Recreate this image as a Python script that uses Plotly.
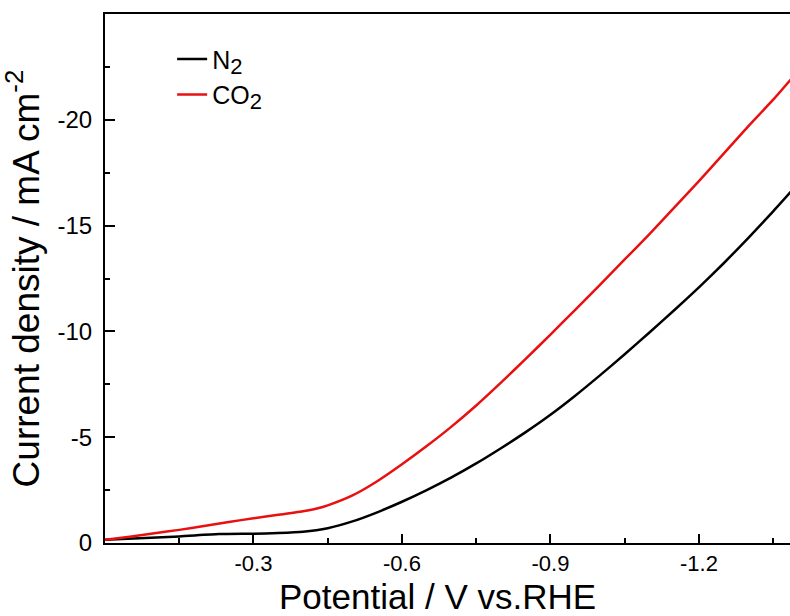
import plotly.graph_objects as go

# Potential (V vs. RHE) and current density (mA cm^-2)
pot_n2 = [0.0, -0.15, -0.23, -0.30, -0.35, -0.40, -0.45, -0.50, -0.55, -0.60,
          -0.65, -0.70, -0.75, -0.80, -0.85, -0.90, -0.95, -1.00, -1.05, -1.10,
          -1.15, -1.20, -1.25, -1.30, -1.35, -1.40]
j_n2 = [-0.15, -0.31, -0.42, -0.44, -0.47, -0.53, -0.70, -1.02, -1.45, -1.95,
        -2.50, -3.10, -3.76, -4.48, -5.24, -6.06, -6.96, -7.92, -8.92, -9.95,
        -11.0, -12.08, -13.22, -14.42, -15.67, -16.97]

pot_co2 = [0.0, -0.05, -0.10, -0.15, -0.20, -0.25, -0.30, -0.35, -0.40, -0.43,
           -0.45, -0.50, -0.55, -0.60, -0.65, -0.70, -0.75, -0.80, -0.85, -0.90,
           -0.95, -1.00, -1.05, -1.10, -1.15, -1.20, -1.25, -1.30, -1.35, -1.40]
j_co2 = [-0.15, -0.30, -0.46, -0.62, -0.80, -0.99, -1.17, -1.33, -1.50, -1.64,
         -1.78, -2.25, -2.92, -3.72, -4.58, -5.50, -6.50, -7.58, -8.70, -9.85,
         -11.02, -12.2, -13.4, -14.6, -15.85, -17.1, -18.4, -19.7, -20.95, -22.3]

x_ticks = [-0.3, -0.6, -0.9, -1.2]
x_tick_labels = ["-0.3", "-0.6", "-0.9", "-1.2"]
x_minor = [-0.15, -0.45, -0.75, -1.05, -1.35]
y_ticks = [0, -5, -10, -15, -20]
y_tick_labels = ["0", "-5", "-10", "-15", "-20"]
y_minor = [-2.5, -7.5, -12.5, -17.5, -22.5]

FONT = "Liberation Sans, Arial, sans-serif"

fig = go.Figure()
fig.add_trace(go.Scatter(x=pot_n2, y=j_n2, mode="lines",
                         name="N<sub><span style='font-size:22px'>2</span></sub>",
                         line=dict(color="#000000", width=2.5, shape="spline", smoothing=0.5)))
fig.add_trace(go.Scatter(x=pot_co2, y=j_co2, mode="lines",
                         name="CO<sub><span style='font-size:22px'>2</span></sub>",
                         line=dict(color="#e81010", width=2.5, shape="spline", smoothing=0.5)))

fig.update_layout(
    width=790, height=616,
    margin=dict(l=105, r=0, t=14, b=73),
    paper_bgcolor="white", plot_bgcolor="white",
    font=dict(family=FONT, color="black", size=24),
    showlegend=True,
    legend=dict(x=0.098, y=0.958, xanchor="left", yanchor="top",
                bgcolor="rgba(0,0,0,0)", borderwidth=0,
                font=dict(size=25, family=FONT), tracegroupgap=0),
    xaxis=dict(
        range=[0, -1.384], showgrid=False, zeroline=False, automargin=False,
        showline=True, linecolor="black", linewidth=2, mirror=True,
        ticks="inside", ticklen=9, tickwidth=2, tickcolor="black",
        tickvals=x_ticks, ticktext=x_tick_labels,
        tickfont=dict(size=22, family=FONT),
        ticklabelstandoff=0,
        minor=dict(ticks="inside", ticklen=5, tickwidth=2, tickcolor="black", tickvals=x_minor),
    ),
    yaxis=dict(
        range=[0, -25], showgrid=False, zeroline=False, automargin=False,
        showline=True, linecolor="black", linewidth=2, mirror=False,
        ticks="inside", ticklen=10, tickwidth=2, tickcolor="black",
        tickvals=y_ticks, ticktext=y_tick_labels,
        tickfont=dict(size=24, family=FONT),
        ticklabelstandoff=6,
        minor=dict(ticks="inside", ticklen=5, tickwidth=2, tickcolor="black", tickvals=y_minor),
        title=dict(text="Current density / mA cm<sup>-2</sup>", font=dict(size=37, family=FONT), standoff=10),
    ),
    annotations=[dict(
        text="Potential / V vs.RHE", xref="paper", yref="paper",
        x=0.485, y=-0.1011, xanchor="center", yanchor="middle",
        showarrow=False, font=dict(size=35, family=FONT, color="black"),
    )],
)

fig.write_html("out.html")
